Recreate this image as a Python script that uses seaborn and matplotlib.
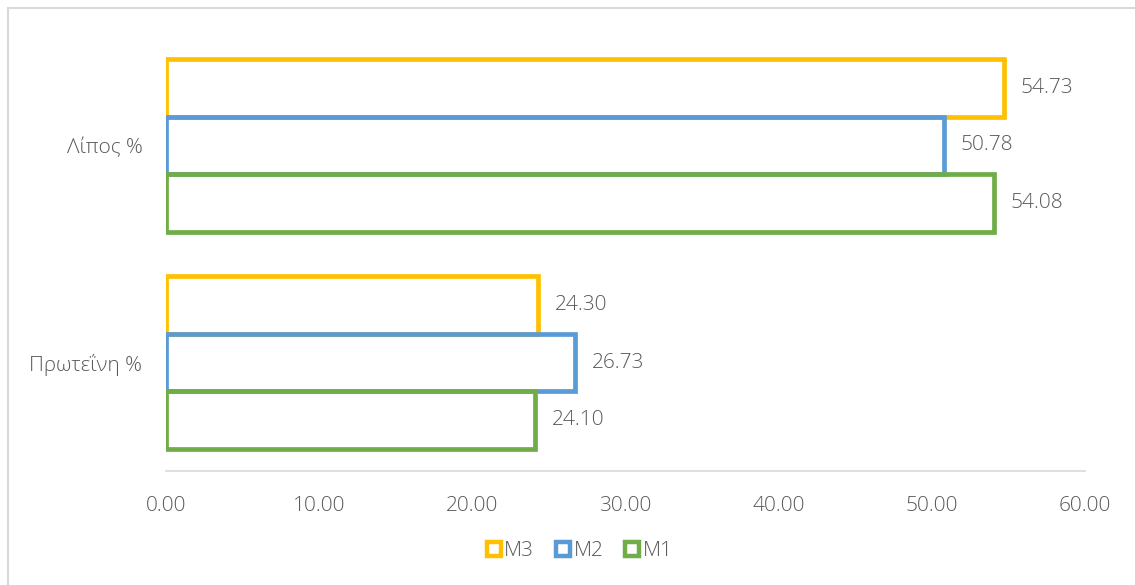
import matplotlib
matplotlib.use("Agg")
import matplotlib.pyplot as plt
from matplotlib.lines import Line2D
import seaborn as sns
import pandas as pd

categories = ["Λίπος %", "Πρωτεΐνη %"]
series = ["M3", "M2", "M1"]
values_m3 = [54.73, 24.30]
values_m2 = [50.78, 26.73]
values_m1 = [54.08, 24.10]
x_ticks = [0, 10, 20, 30, 40, 50, 60]

colors = {"M3": "#FFC000", "M2": "#5B9BD5", "M1": "#70AD47"}
text_gray = "#595959"
fs = 15

rows = []
for name, vals in zip(series, [values_m3, values_m2, values_m1]):
    for cat, v in zip(categories, vals):
        rows.append({"category": cat, "series": name, "value": v})
df = pd.DataFrame(rows)

sns.set_theme(style="white")
plt.rcParams["font.family"] = ["Open Sans", "DejaVu Sans"]
plt.rcParams["font.weight"] = "light"

fig = plt.figure(figsize=(11.35, 5.85), dpi=100)
ax = fig.add_axes([166 / 1135, 1 - 471 / 585, (1085 - 166) / 1135, (471 - 37) / 585])

sns.barplot(data=df, y="category", x="value", hue="series",
            order=categories, hue_order=series, palette=colors,
            orient="h", fill=False, linewidth=3.4, width=0.8,
            errorbar=None, legend=False, ax=ax)

for c in ax.containers:
    ax.bar_label(c, fmt="%.2f", padding=12, color=text_gray, fontsize=fs)

ax.set_xlim(0, 60)
ax.set_xticks(x_ticks)
ax.set_xticklabels([f"{t:.2f}" for t in x_ticks])
ax.set_xlabel("")
ax.set_ylabel("")
ax.tick_params(axis="x", length=0, pad=18, labelsize=fs, labelcolor=text_gray)
ax.tick_params(axis="y", length=0, pad=17, labelsize=fs, labelcolor=text_gray)
for side in ["top", "right", "left"]:
    ax.spines[side].set_visible(False)
ax.spines["bottom"].set_color("#D9D9D9")
ax.spines["bottom"].set_linewidth(1.2)
ax.grid(False)

handles = [Line2D([0], [0], marker="s", linestyle="none", markersize=10,
                  markerfacecolor="white", markeredgecolor=colors[s],
                  markeredgewidth=3.2) for s in series]
fig.legend(handles, series, loc="center", bbox_to_anchor=(578 / 1135, 1 - 551 / 585),
           ncol=3, frameon=False, fontsize=fs, labelcolor=text_gray,
           handletextpad=0.0, columnspacing=0.9, handlelength=1.0)

# chart area outline
fig.add_artist(Line2D([8 / 1135, 8 / 1135], [0, 1 - 8 / 585], color="#D9D9D9", lw=1.5,
                      transform=fig.transFigure))
fig.add_artist(Line2D([8 / 1135, 1], [1 - 8 / 585, 1 - 8 / 585], color="#D9D9D9", lw=1.5,
                      transform=fig.transFigure))

fig.savefig("out.png", dpi=100, facecolor="white")
